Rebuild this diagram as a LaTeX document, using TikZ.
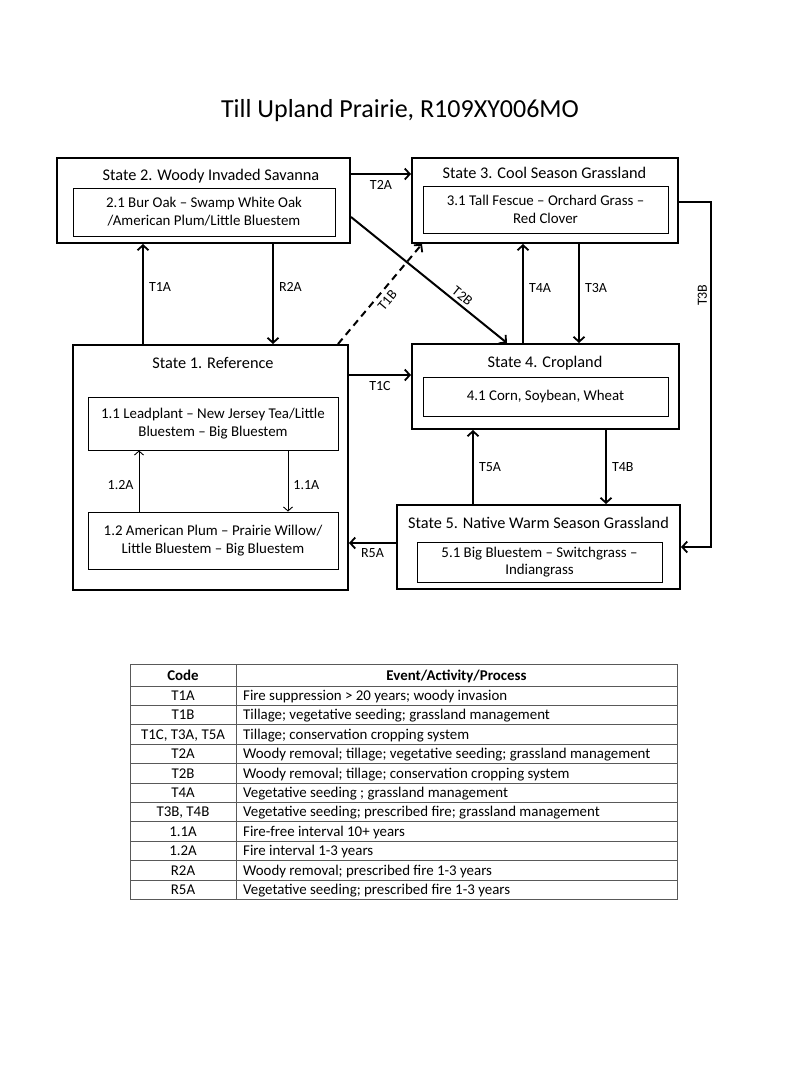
\documentclass[tikz,border=0pt]{standalone}
\usepackage{fontspec}
\setmainfont{Carlito}
\usetikzlibrary{arrows.meta}

\begin{document}
\begin{tikzpicture}[x=1bp,y=-1bp,
    statebox/.style={draw,line width=2bp,inner sep=0pt},
    stitle/.style={anchor=base,inner sep=0pt,font=\fontsize{16.3bp}{19bp}\selectfont},
    commbox/.style={draw,line width=0.9bp,inner sep=0pt,align=center,font=\fontsize{14.9bp}{17.8bp}\selectfont},
    arr/.style={line width=2bp,-{Straight Barb[length=5bp,width=11bp,line width=1.8bp]}},
    thinarr/.style={line width=0.9bp,-{Straight Barb[length=4bp,width=9bp]}},
    lbl/.style={inner sep=5bp,font=\fontsize{14bp}{15bp}\selectfont},
    tabline/.style={draw=black!65,line width=1bp},
    tcell/.style={inner sep=0pt,anchor=base,font=\fontsize{14.9bp}{16bp}\selectfont}]
\useasboundingbox[fill=white] (0,0) rectangle (800,1067);

\node[font=\fontsize{26bp}{30bp}\selectfont] (head) at (400,111) {Till Upland Prairie, R109XY006MO};

\node[statebox,minimum width=293bp,minimum height=85bp] (s2) at (203.5,200.5) {};
\node[statebox,minimum width=266bp,minimum height=85bp] (s3) at (545,200.5) {};
\node[statebox,minimum width=275bp,minimum height=245bp] (s1) at (210.5,467.5) {};
\node[statebox,minimum width=267bp,minimum height=85bp] (s4) at (545.5,386.5) {};
\node[statebox,minimum width=283bp,minimum height=84bp] (s5) at (538.5,547) {};

\node[stitle] (t2) at (211,180.5) {State 2. Woody Invaded Savanna};
\node[stitle] (t3) at (544.5,178.5) {State 3. Cool Season Grassland};
\node[stitle] (t1) at (213,368.5) {State 1. Reference};
\node[stitle] (t4) at (545,367.5) {State 4. Cropland};
\node[stitle] (t5) at (538.5,528.5) {State 5. Native Warm Season Grassland};

\node[commbox,minimum width=262bp,minimum height=48bp] (c21) at (204,212) {2.1 Bur Oak – Swamp White Oak\\/American Plum/Little Bluestem};
\node[commbox,minimum width=245bp,minimum height=47bp] (c31) at (545.5,209.5) {3.1 Tall Fescue – Orchard Grass –\\Red Clover};
\node[commbox,minimum width=250bp,minimum height=53bp] (c11) at (213,423.5) {1.1 Leadplant – New Jersey Tea/Little\\Bluestem – Big Bluestem};
\node[commbox,minimum width=250bp,minimum height=57bp] (c12) at (213,540.5) {1.2 American Plum – Prairie Willow/\\Little Bluestem – Big Bluestem};
\node[commbox,minimum width=245bp,minimum height=39bp] (c41) at (545.5,396.5) {4.1 Corn, Soybean, Wheat};
\node[commbox,minimum width=245bp,minimum height=40bp] (c51) at (539.5,562) {5.1 Big Bluestem – Switchgrass –\\Indiangrass};

\draw[arr] ([xshift=-67.5bp]s1.north) -- node[lbl,right,pos=0.57] {T1A} ([xshift=-67.5bp]s1.north |- s2.south);
\draw[arr] ([xshift=69.5bp]s2.south) -- node[lbl,right,pos=0.43] {R2A} ([xshift=69.5bp]s2.south |- s1.north);
\draw[arr] ([yshift=26.5bp]s2.east) -- node[lbl,below] {T2A} ([yshift=26.5bp]s2.east -| s3.west);
\draw[arr] ([yshift=-16.5bp]s2.east) -- node[lbl,pos=0.68,sloped,above,inner sep=3bp] {T2B} ([xshift=-38.5bp]s4.north);
\draw[arr,dash pattern=on 7bp off 5bp] ([xshift=127.5bp]s1.north) -- node[lbl,pos=0.5,sloped,below,inner sep=4bp] {T1B} ([xshift=-123bp]s3.south);
\draw[arr] ([yshift=92.5bp]s1.east) -- node[lbl,below] {T1C} ([yshift=92.5bp]s1.east -| s4.west);
\draw[arr] ([xshift=-22.5bp]s4.north) -- node[lbl,right,pos=0.56] {T4A} ([xshift=-22.5bp]s4.north |- s3.south);
\draw[arr] ([xshift=34bp]s3.south) -- node[lbl,right,pos=0.44] {T3A} ([xshift=34bp]s3.south |- s4.north);
\draw[arr] ([yshift=-1.5bp]s3.east) -- ++(32,0) |- node[lbl,pos=0.135,anchor=south,rotate=90,inner sep=3bp] {T3B} (s5.east);
\draw[arr] ([xshift=-65.5bp]s5.north) -- node[lbl,right] {T5A} ([xshift=-65.5bp]s5.north |- s4.south);
\draw[arr] ([xshift=60.5bp]s4.south) -- node[lbl,right] {T4B} ([xshift=60.5bp]s4.south |- s5.north);
\draw[arr] ([yshift=4bp]s5.west) -- node[lbl,below] {R5A} ([yshift=4bp]s5.west -| s1.east);
\draw[thinarr] ([xshift=-74bp]c12.north) -- node[lbl,left,pos=0.44] {1.2A} ([xshift=-74bp]c12.north |- c11.south);
\draw[thinarr] ([xshift=75bp]c11.south) -- node[lbl,right,pos=0.56] {1.1A} ([xshift=75bp]c11.south |- c12.north);

\draw[tabline] (130,664) rectangle (677,899.4);
\draw[tabline] (236,664) -- (236,899.4);
\foreach \i in {0,...,10}
    \draw[tabline] (130,686+19.4*\i) -- (677,686+19.4*\i);
\node[tcell,font=\fontsize{14.9bp}{16bp}\selectfont\bfseries] (hcode) at (183,680) {Code};
\node[tcell,font=\fontsize{14.9bp}{16bp}\selectfont\bfseries] (hevt) at (456.5,680) {Event/Activity/Process};
\foreach \cd/\evt [count=\i] in {
    T1A/{Fire suppression > 20 years; woody invasion},
    T1B/{Tillage; vegetative seeding; grassland management},
    {T1C, T3A, T5A}/{Tillage; conservation cropping system},
    T2A/{Woody removal; tillage; vegetative  seeding; grassland management},
    T2B/{Woody removal; tillage; conservation cropping system},
    T4A/{Vegetative seeding ; grassland management},
    {T3B, T4B}/{Vegetative seeding; prescribed fire; grassland management},
    1.1A/{Fire-free interval 10+ years},
    1.2A/{Fire interval 1-3 years},
    R2A/{Woody removal; prescribed fire 1-3 years},
    R5A/{Vegetative seeding; prescribed fire 1-3 years}}{
    \node[tcell] (code\i) at (183,681.1+19.4*\i) {\cd};
    \node[tcell,anchor=base west] (evt\i) at (243,681.1+19.4*\i) {\evt};
}
\end{tikzpicture}
\end{document}
